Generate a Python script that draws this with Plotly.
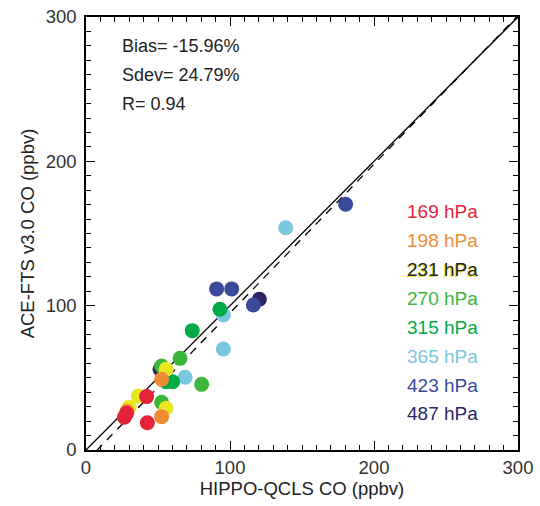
import plotly.graph_objects as go

# CO comparison: HIPPO-QCLS (x) vs ACE-FTS v3.0 (y), grouped by pressure level
levels = ["169 hPa", "198 hPa", "231 hPa", "270 hPa", "315 hPa", "365 hPa", "423 hPa", "487 hPa"]
colors = ["#e4233a", "#ef8c33", "#e6e621", "#3cb63a", "#00ab45", "#7ac8dd", "#394a9b", "#2c2466"]

x_169 = [42.1, 28.2, 26.6, 42.6]
y_169 = [37.0, 25.4, 22.7, 18.9]
x_198 = [52.5, 28.4, 52.5]
y_198 = [49.0, 26.8, 23.1]
x_231 = [55.6, 36.3, 30.0, 55.6]
y_231 = [55.9, 37.4, 29.6, 28.9]
x_270 = [65.3, 80.3, 52.5, 52.5]
y_270 = [63.5, 45.5, 33.0, 58.2]
x_315 = [93.0, 73.8, 55.6, 60.2]
y_315 = [97.5, 82.7, 47.3, 47.3]
x_365 = [95.4, 95.4, 68.8, 138.7]
y_365 = [93.6, 70.0, 50.4, 154.0]
x_423 = [90.7, 101.2, 116.2, 180.3]
y_423 = [111.6, 111.6, 100.5, 170.3]
x_487 = [120.4, 51.4]
y_487 = [104.4, 55.9]

xs = [x_169, x_198, x_231, x_270, x_315, x_365, x_423, x_487]
ys = [y_169, y_198, y_231, y_270, y_315, y_365, y_423, y_487]

stats = ["Bias= -15.96%", "Sdev= 24.79%", "R= 0.94"]

# linear fit shown as dashed line
fit_slope = 1.03
fit_intercept = -8.0
axis_range = [0, 300]

FONT = "Liberation Sans, Arial, Helvetica"

fig = go.Figure()

# 1:1 line
fig.add_trace(go.Scatter(x=axis_range, y=axis_range, mode="lines",
                         line=dict(color="black", width=1.3), hoverinfo="skip"))
# fit line
fx = [0, 320]
fy = [fit_intercept + fit_slope * v for v in fx]
fig.add_trace(go.Scatter(x=fx, y=fy, mode="lines",
                         line=dict(color="black", width=1.3, dash="8px,7px"), hoverinfo="skip"))

# deeper levels drawn first so upper levels sit on top
for i in reversed(range(len(levels))):
    fig.add_trace(go.Scatter(x=xs[i], y=ys[i], mode="markers", name=levels[i],
                             marker=dict(size=15, color=colors[i], line=dict(width=0))))

annotations = []
for k, s in enumerate(stats):
    annotations.append(dict(x=23.6, y=280 - 20 * k, xref="x", yref="y", text=s,
                            showarrow=False, xanchor="left", yanchor="middle",
                            font=dict(family=FONT, size=18, color="#222")))

for i, lab in enumerate(levels):
    yv = 165 - 20 * i
    if lab == "231 hPa":
        annotations.append(dict(x=221.5, y=yv, xref="x", yref="y", text=lab, showarrow=False,
                                xanchor="left", yanchor="middle", xshift=-1, yshift=-1,
                                font=dict(family=FONT, size=19, color=colors[i])))
        annotations.append(dict(x=221.5, y=yv, xref="x", yref="y", text=lab, showarrow=False,
                                xanchor="left", yanchor="middle",
                                font=dict(family=FONT, size=19, color="#222")))
    else:
        annotations.append(dict(x=221.5, y=yv, xref="x", yref="y", text=lab, showarrow=False,
                                xanchor="left", yanchor="middle",
                                font=dict(family=FONT, size=19, color=colors[i])))

axis_common = dict(range=axis_range, tickvals=[0, 100, 200, 300], ticks="inside", ticklen=9,
                   tickwidth=1.3, tickcolor="black", showline=True, linecolor="black",
                   linewidth=1.5, mirror="ticks", showgrid=False, zeroline=False,
                   automargin=False,
                   tickfont=dict(family=FONT, size=18.5, color="#333"),
                   minor=dict(dtick=10, ticks="inside", ticklen=5, tickwidth=1.1,
                              tickcolor="black", showgrid=False))

fig.update_layout(
    width=540, height=506,
    margin=dict(l=86, r=22, t=17, b=56),
    plot_bgcolor="white", paper_bgcolor="white",
    showlegend=False,
    annotations=annotations,
    xaxis=dict(**axis_common, ticklabelstandoff=0,
               title=dict(text="HIPPO-QCLS CO (ppbv)", standoff=4,
                          font=dict(family=FONT, size=18.5, color="#222"))),
    yaxis=dict(**axis_common, ticklabelstandoff=4,
               title=dict(text="ACE-FTS v3.0 CO (ppbv)", standoff=6,
                          font=dict(family=FONT, size=18.5, color="#222"))),
)

fig.write_html("out.html")
